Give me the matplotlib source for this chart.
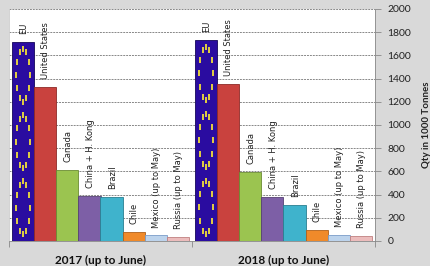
import matplotlib
matplotlib.use("Agg")
import matplotlib.pyplot as plt
import numpy as np

years = ["2017 (up to June)", "2018 (up to June)"]
countries = ["EU", "United States", "Canada", "China + H. Kong", "Brazil",
             "Chile", "Mexico (up to May)", "Russia (up to May)"]
v2017 = [1715, 1328, 612, 388, 380, 78, 50, 37]
v2018 = [1733, 1353, 597, 382, 310, 95, 52, 43]
yticks = list(range(0, 2001, 200))

face = ["#2a0ca0", "#c9423e", "#9bc450", "#7d5fa6", "#3fb3cc",
        "#f08a2a", "#bcd3ec", "#ecbcbc"]
edge = ["#14065a", "#8e2a27", "#6a8c33", "#574174", "#2a7f91",
        "#b0601a", "#7a9cc8", "#c08080"]

fig = plt.figure(figsize=(4.31, 2.66), dpi=100, facecolor="#d9d9d9")
ax = fig.add_axes([9/431, 1-241/266, (375-9)/431, (241-9)/266])
ax.set_facecolor("white")

n = len(countries)
margin = 0.0165
bw = (1 - 2*margin) / n
data = [v2017, v2018]
for g, vals in enumerate(data):
    for i, v in enumerate(vals):
        x = g - 0.5 + margin + bw*(i + 0.5)
        ax.bar(x, v, width=bw, color=face[i], edgecolor=edge[i], linewidth=0.6, zorder=3)
        if i == 0:
            # EU flag-like ring of stars, derived from the bar geometry
            nring = 3
            ang = np.linspace(0, 2*np.pi, 12, endpoint=False)
            for k in range(nring):
                yc = v * (2*k + 1) / (2*nring)
                ry = v / (2*nring) * 0.8
                rx = bw * 0.3
                ax.plot(x + rx*np.sin(ang), yc + ry*np.cos(ang), ls="none",
                        marker="|", ms=4.5, mew=1.3, color="#f2e03a", zorder=4)
        ax.annotate(countries[i], (x, v), xytext=(0.5, 5.5), textcoords="offset points",
                    rotation=90, ha="center", va="bottom", fontsize=6,
                    color="#222222", zorder=5)

ax.set_xlim(-0.5, 1.5)
ax.set_ylim(0, 2000)
ax.set_yticks(yticks)
ax.yaxis.tick_right()
ax.yaxis.set_label_position("right")
ax.tick_params(axis="y", direction="out", length=4, width=0.6, color="#888888",
               labelsize=7.5, labelcolor="#222222", pad=5)
for t in ax.get_yticklabels():
    t.set_family("Lato")
ax.grid(axis="y", linestyle=(0, (2, 1)), color="#888888", linewidth=0.7, zorder=0)
ax.set_axisbelow(True)
ax.set_ylabel("Qty in 1000 Tonnes", fontsize=7, fontweight="bold", labelpad=8,
              color="#222222", family="Lato")

ax.set_xticks([0, 1])
ax.set_xticklabels(years, fontsize=8.5, fontweight="bold", color="#111111", family="Lato")
ax.tick_params(axis="x", length=0, pad=10)
ax.set_xticks([-0.5, 0.5, 1.5], minor=True)
ax.tick_params(axis="x", which="minor", length=4, width=0.6, color="#888888")

ax.spines["top"].set_visible(False)
ax.spines["left"].set_color("#cccccc")
ax.spines["left"].set_linewidth(0.6)
ax.spines["right"].set_color("#888888")
ax.spines["right"].set_linewidth(0.6)
ax.spines["bottom"].set_color("#888888")
ax.spines["bottom"].set_linewidth(0.6)

fig.savefig("out.png", dpi=100, facecolor=fig.get_facecolor())
